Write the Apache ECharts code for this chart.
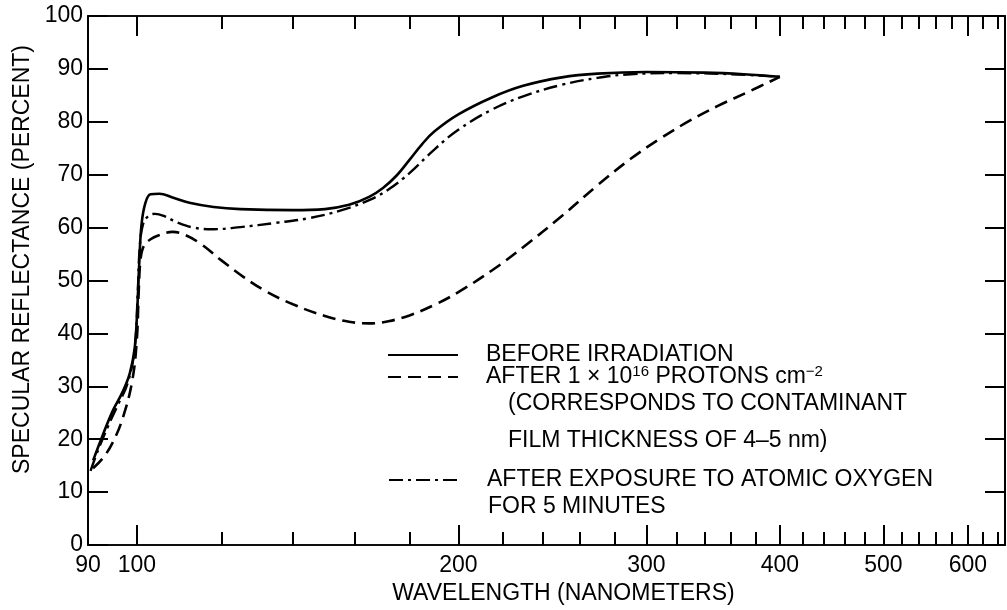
<!DOCTYPE html>
<html>
<head>
<meta charset="utf-8">
<script src="https://cdn.jsdelivr.net/npm/echarts@6/dist/echarts.min.js"></script>
<style>
  html, body { margin: 0; padding: 0; background: #fff; }
  #chart { width: 1007px; height: 610px; }
</style>
</head>
<body>
<div id="chart"></div>
<script>
// wavelength (nm) and reflectance (%)
var wlBefore  = [91, 93, 95, 97, 98.5, 99.5, 100, 100.5, 101, 101.8, 103, 105, 108, 112, 118, 125, 140, 150, 158, 165, 170, 175, 180, 185, 190, 200, 215, 230, 250, 270, 300, 340, 370, 400];
var refBefore = [16, 21, 25.5, 29, 32.5, 37, 43, 53, 60.5, 64.5, 66.3, 66.4, 65.7, 64.7, 63.9, 63.5, 63.3, 63.5, 64.3, 65.8, 67.5, 69.8, 72.8, 75.8, 78.2, 81.4, 84.6, 86.8, 88.4, 89.1, 89.4, 89.3, 89, 88.5];

var wlProton  = [91, 93, 95, 97, 99, 100, 100.4, 100.8, 101.5, 103, 105, 108, 111, 115, 120, 126, 132, 140, 150, 158, 165, 172, 180, 190, 200, 215, 230, 250, 270, 290, 310, 330, 350, 375, 400];
var refProton = [14.5, 16.5, 19.5, 24, 31, 39, 48, 54, 56.5, 57.8, 58.6, 59.2, 58.6, 56.8, 53.8, 50.6, 48, 45.5, 43.3, 42.2, 41.9, 42.3, 43.4, 45.4, 47.8, 51.9, 56.3, 62.2, 68, 73, 77, 80.3, 83, 85.8, 88.5];

var wlOxygen  = [90.5, 92, 94, 96, 98, 99.5, 100.2, 100.6, 101.3, 102.5, 104, 106, 109, 113, 118, 125, 135, 145, 155, 165, 172, 180, 190, 200, 215, 230, 250, 270, 290, 320, 360, 400];
var refOxygen = [14, 18, 22.5, 26.5, 30.5, 37, 48, 56, 60.5, 62.2, 62.6, 62.2, 61, 60, 59.7, 60.1, 60.9, 61.8, 63.2, 65.2, 67.2, 70.3, 74.8, 78.5, 82.3, 84.8, 87, 88.3, 89, 89.2, 89, 88.5];

var xLabels = [90, 100, 200, 300, 400, 500, 600];
var xMajor  = [100, 200, 300, 400, 500, 600];
var xMinor  = [120, 140, 160, 180, 220, 240, 260, 280, 320, 340, 360, 380,
               420, 440, 460, 480, 520, 540, 560, 580, 620, 640];
var xMin = 90, xMax = 650;

var FONT = '"Liberation Sans", Arial, sans-serif';
var FS = 23;

function lg(v) { return Math.log10(v); }
function pairs(wl, ref) {
    return wl.map(function (w, i) { return [lg(w), ref[i]]; });
}

var dom = document.getElementById('chart');
var myChart = echarts.init(dom);

function xAx(pos, ticks, len, showLabel) {
    return {
        type: 'value',
        position: pos,
        min: lg(xMin),
        max: lg(xMax),
        axisLine: { show: true, lineStyle: { color: '#000', width: 1.5 } },
        splitLine: { show: false },
        axisTick: {
            show: true, inside: true, length: len,
            customValues: ticks.map(lg),
            lineStyle: { color: '#000', width: 2 }
        },
        axisLabel: {
            show: showLabel,
            customValues: xLabels.map(lg),
            margin: 9,
            color: '#000',
            fontFamily: FONT,
            fontSize: FS,
            formatter: function (v) { return Math.round(Math.pow(10, v)); }
        }
    };
}

var xAxes = [
    xAx('bottom', xMajor, 20, true),
    xAx('bottom', xMinor, 13, false),
    xAx('top', xMajor, 20, false),
    xAx('top', xMinor, 13, false)
];
xAxes[0].name = 'WAVELENGTH (NANOMETERS)';
xAxes[0].nameLocation = 'middle';
xAxes[0].nameGap = 37;
xAxes[0].nameTextStyle = { color: '#000', fontFamily: FONT, fontSize: FS, padding: [0, 0, 0, 34] };

function yAx(pos, showLabel) {
    return {
        type: 'value',
        position: pos,
        min: 0, max: 100, interval: 10,
        axisLine: { show: true, lineStyle: { color: '#000', width: 2 } },
        splitLine: { show: false },
        axisTick: { show: true, inside: true, length: 20, lineStyle: { color: '#000', width: 2 } },
        axisLabel: { show: showLabel, margin: 5, color: '#000', fontFamily: FONT, fontSize: FS }
    };
}
var yAxes = [yAx('left', true), yAx('right', false)];
yAxes[0].name = 'SPECULAR REFLECTANCE (PERCENT)';
yAxes[0].nameLocation = 'middle';
yAxes[0].nameGap = 50;
yAxes[0].nameTextStyle = { color: '#000', fontFamily: FONT, fontSize: FS, padding: [0, 0, 0, 42] };

var legTextStyle = {
    color: '#000', fontFamily: FONT, fontSize: FS, lineHeight: 26,
    padding: [0, 0, 0, 23],
    rich: {
        a: { color: '#000', fontFamily: FONT, fontSize: FS, lineHeight: 26 },
        s: { color: '#000', fontFamily: FONT, fontSize: 15, lineHeight: 15, verticalAlign: 'top' }
    }
};
function leg(name, left, top, fmt) {
    return {
        data: [name], left: left, top: top, padding: 0,
        orient: 'vertical', itemWidth: 70, itemHeight: 14,
        selectedMode: false,
        itemStyle: { color: 'rgba(0,0,0,0)', borderWidth: 0, opacity: 0 },
        textStyle: legTextStyle,
        formatter: fmt
    };
}

option = {
    animation: false,
    backgroundColor: '#fff',
    grid: { left: 88, right: 2, top: 16, bottom: 64 },
    xAxis: xAxes,
    yAxis: yAxes,
    legend: [
        leg('before', 387, 342, function () { return '{a|BEFORE IRRADIATION}'; }),
        leg('proton', 387, 364, function () { return '{a|AFTER 1 × 10}{s|16}{a| PROTONS cm}{s|−2}'; }),
        leg('oxygen', 388, 467, function () { return '{a|AFTER EXPOSURE TO ATOMIC OXYGEN}'; })
    ],
    graphic: [
        { type: 'text', left: 508, top: 392, style: { text: '(CORRESPONDS TO CONTAMINANT', fill: '#000', font: FS + 'px ' + FONT } },
        { type: 'text', left: 508, top: 429, style: { text: 'FILM THICKNESS OF 4–5 nm)', fill: '#000', font: FS + 'px ' + FONT } },
        { type: 'text', left: 488, top: 495, style: { text: 'FOR 5 MINUTES', fill: '#000', font: FS + 'px ' + FONT } }
    ],
    series: [
        {
            name: 'before', type: 'line', xAxisIndex: 0, yAxisIndex: 0,
            data: pairs(wlBefore, refBefore),
            showSymbol: false, symbol: 'none', smooth: 0.4,
            lineStyle: { color: '#000', width: 2.6, type: 'solid' },
            itemStyle: { color: '#000' }
        },
        {
            name: 'proton', type: 'line', xAxisIndex: 0, yAxisIndex: 0,
            data: pairs(wlProton, refProton),
            showSymbol: false, symbol: 'none', smooth: 0.4,
            lineStyle: { color: '#000', width: 2.6, type: [13, 7] },
            itemStyle: { color: '#000' }
        },
        {
            name: 'oxygen', type: 'line', xAxisIndex: 0, yAxisIndex: 0,
            data: pairs(wlOxygen, refOxygen),
            showSymbol: false, symbol: 'none', smooth: 0.4,
            lineStyle: { color: '#000', width: 2.4, type: [14, 5, 3, 5] },
            itemStyle: { color: '#000' }
        }
    ]
};
if (option && typeof option === "object") {
    myChart.setOption(option, true);
}
</script>
</body>
</html>
